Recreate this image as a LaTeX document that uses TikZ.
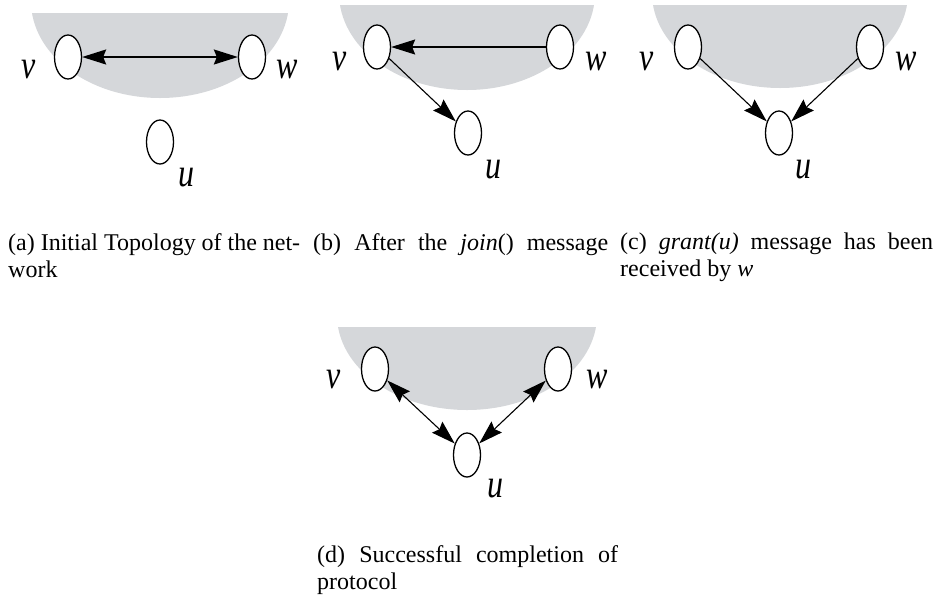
\documentclass[tikz,border=0pt]{standalone}
\usepackage{fontspec}
\setmainfont{Liberation Serif}
\usetikzlibrary{arrows.meta,shapes.geometric}

\definecolor{bowlgray}{RGB}{213,215,218}
\newcommand{\tallname}[1]{\scalebox{1}[1.25]{#1}}

\tikzset{
	proc/.style={draw,ellipse,fill=white,line width=1.3pt,inner sep=0pt,minimum width=27pt,minimum height=44pt},
	lbl/.style={inner sep=0pt,font=\fontsize{32}{32}\selectfont\itshape},
	msg/.style={line width=1.1pt},
	capt/.style={anchor=north west,inner sep=0pt,text width=#1,align=justify,font=\fontsize{24}{27}\selectfont},
}

\begin{document}
\begin{tikzpicture}[x=1pt,y=-1pt,>={Stealth[length=24pt,width=15pt,inset=3pt]}]
\useasboundingbox (0,0) rectangle (938,598);

% grey region, one per panel
\foreach \cx/\ty/\by/\hw in {160/13/98/128, 467/5/90/127, 780/5/88/127, 467/327/410/129} {
	\begin{scope}
	\clip (\cx-\hw-10,\ty) rectangle (\cx+\hw+10,\by+5);
	\fill [bowlgray] (\cx,\ty-12) ellipse [x radius=\hw+1, y radius=\by-\ty+12];
	\end{scope}
}

%%%%%%%%%%%%%%%%%%%%%%%%%%%%%%%%%%%%%%%%%%%%%%%%%%%%%%%%%%%%%%%%

\node [proc] at (68,57)  (va) {};
\node [proc] at (252,57) (wa) {};
\node [proc] at (160,142) (ua) {};
\node [lbl] at (29,70)  (lva) {\tallname{v}};
\node [lbl] at (287,70) (lwa) {\tallname{w}};
\node [lbl] at (186,178) (lua) {\tallname{u}};
\draw [msg,line width=1.6pt,<->] (va) -- (wa);

\node [proc] at (377,47) (vb) {};
\node [proc] at (560,47) (wb) {};
\node [proc] at (468,133) (ub) {};
\node [lbl] at (340,62)  (lvb) {\tallname{v}};
\node [lbl] at (596,62)  (lwb) {\tallname{w}};
\node [lbl] at (493,170) (lub) {\tallname{u}};
\draw [msg,->] (wb) -- (vb);
\draw [msg,->] (vb) -- (ub);

\node [proc] at (688,47) (vc) {};
\node [proc] at (870,47) (wc) {};
\node [proc] at (779,133) (uc) {};
\node [lbl] at (647,62)  (lvc) {\tallname{v}};
\node [lbl] at (906,62)  (lwc) {\tallname{w}};
\node [lbl] at (803,170) (luc) {\tallname{u}};
\draw [msg,->] (vc) -- (uc);
\draw [msg,->] (wc) -- (uc);

\node [proc] at (375,369) (vd) {};
\node [proc] at (558,369) (wd) {};
\node [proc] at (467,455) (ud) {};
\node [lbl] at (334,380) (lvd) {\tallname{v}};
\node [lbl] at (597,380) (lwd) {\tallname{w}};
\node [lbl] at (495,489) (lud) {\tallname{u}};
\draw [msg,<->] (vd) -- (ud);
\draw [msg,<->] (wd) -- (ud);

%%%%%%%%%%%%%%%%%%%%%%%%%%%%%%%%%%%%%%%%%%%%%%%%%%%%%%%%%%%%%%%%

\node [capt=292pt] at (8,233)   (capa) {(a) Initial Topology of the net-\linebreak work};
\node [capt=300pt] at (313,233) (capb) {\makebox[295pt][s]{(b) After the \textit{join}() message}};
\node [capt=313pt] at (620,233) (capc) {(c) \textit{grant(u)} message has been\linebreak received by \textit{w}};
\node [capt=301pt] at (317,545) (capd) {(d) Successful completion of\linebreak protocol};

\end{tikzpicture}
\end{document}
